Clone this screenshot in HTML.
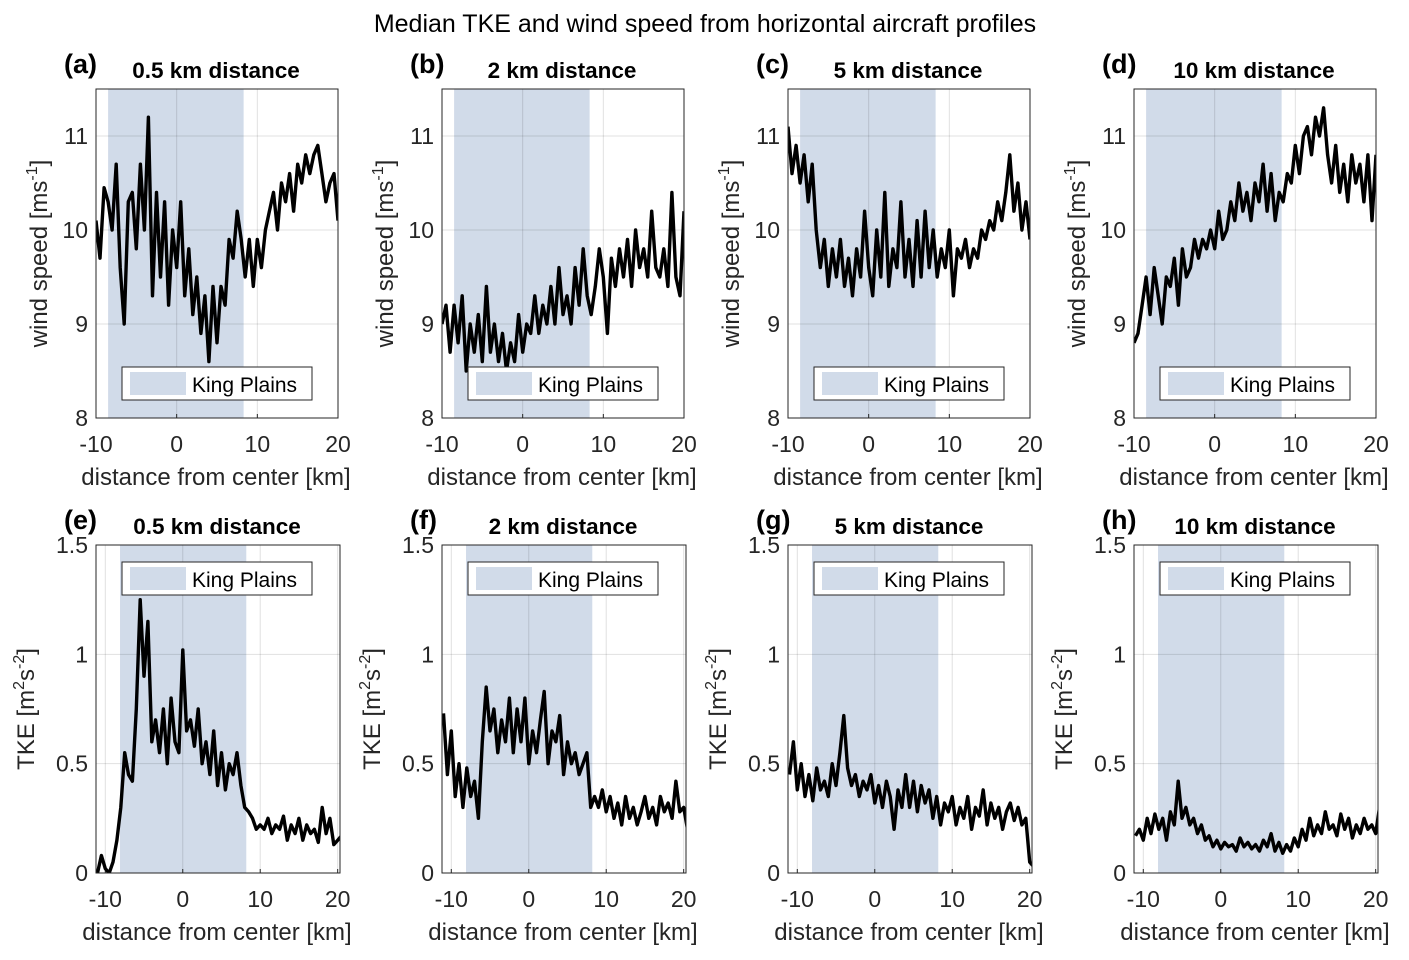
<!DOCTYPE html>
<html><head><meta charset="utf-8"><style>
html,body{margin:0;padding:0;background:#fff}
svg{display:block;font-family:"Liberation Sans",Arial,sans-serif}
</style></head><body>
<svg id="fig" width="1409" height="960" viewBox="0 0 1409 960" xmlns="http://www.w3.org/2000/svg">
<text x="705" y="32" font-size="25" text-anchor="middle" fill="#000">Median TKE and wind speed from horizontal aircraft profiles</text>
</svg>
<script>
// ---- data ----
const panelLetters = ['(a)','(b)','(c)','(d)','(e)','(f)','(g)','(h)'];
const panelTitles = ['0.5 km distance','2 km distance','5 km distance','10 km distance'];
const windXStart = -10, windXStep = 0.5;
const tkeXStart = -11, tkeXStep = 0.5;
const windA = [10.1,9.7,10.45,10.3,10.0,10.7,9.6,9.0,10.3,10.4,9.8,10.7,10.0,11.2,9.3,10.4,9.5,10.3,9.2,10.0,9.6,10.3,9.3,9.8,9.1,9.5,8.9,9.3,8.6,9.4,8.8,9.4,9.2,9.9,9.7,10.2,9.9,9.5,9.9,9.4,9.9,9.6,10.0,10.2,10.4,10.0,10.5,10.3,10.6,10.2,10.7,10.5,10.8,10.6,10.8,10.9,10.6,10.3,10.5,10.6,10.1];
const windB = [9.0,9.2,8.7,9.2,8.8,9.3,8.5,9.0,8.7,9.1,8.6,9.4,8.7,9.0,8.6,8.9,8.5,8.8,8.6,9.1,8.7,9.0,8.9,9.3,8.9,9.2,9.0,9.4,9.0,9.6,9.1,9.3,9.0,9.6,9.2,9.8,9.3,9.1,9.4,9.8,9.5,8.9,9.7,9.4,9.8,9.5,9.9,9.4,10.0,9.6,9.8,9.5,10.2,9.6,9.5,9.8,9.4,10.4,9.5,9.3,10.2];
const windC = [11.1,10.6,10.9,10.5,10.8,10.3,10.7,10.0,9.6,9.9,9.4,9.8,9.5,9.9,9.4,9.7,9.3,9.8,9.5,10.2,9.6,9.3,10.0,9.5,10.4,9.4,9.8,9.6,10.3,9.5,9.9,9.4,10.1,9.5,10.2,9.6,10.0,9.5,9.8,9.6,10.0,9.3,9.8,9.7,9.9,9.6,9.8,9.7,10.0,9.9,10.1,10.0,10.3,10.1,10.4,10.8,10.2,10.5,10.0,10.3,9.9];
const windD = [8.8,8.9,9.2,9.5,9.1,9.6,9.3,9.0,9.5,9.4,9.7,9.2,9.8,9.5,9.6,9.9,9.7,9.9,9.8,10.0,9.8,10.2,9.9,10.0,10.3,10.1,10.5,10.2,10.4,10.1,10.5,10.3,10.7,10.2,10.6,10.1,10.4,10.3,10.6,10.5,10.9,10.6,11.0,11.1,10.8,11.2,11.0,11.3,10.8,10.5,10.9,10.4,10.7,10.3,10.8,10.5,10.7,10.3,10.8,10.1,10.8];
const tkeE = [0.0,0.08,0.02,0.0,0.05,0.15,0.3,0.55,0.45,0.42,0.75,1.25,0.9,1.15,0.6,0.7,0.55,0.75,0.5,0.8,0.6,0.55,1.02,0.65,0.7,0.58,0.75,0.5,0.6,0.45,0.65,0.4,0.55,0.38,0.5,0.45,0.55,0.4,0.3,0.28,0.25,0.2,0.22,0.2,0.25,0.18,0.22,0.2,0.26,0.15,0.22,0.18,0.25,0.15,0.22,0.18,0.2,0.14,0.3,0.18,0.25,0.13,0.15,0.17];
const tkeF = [0.73,0.45,0.65,0.35,0.5,0.3,0.48,0.35,0.42,0.25,0.6,0.85,0.65,0.75,0.55,0.7,0.6,0.8,0.55,0.75,0.6,0.8,0.5,0.65,0.55,0.7,0.83,0.5,0.65,0.6,0.72,0.45,0.6,0.5,0.55,0.45,0.5,0.55,0.3,0.35,0.3,0.38,0.28,0.35,0.25,0.32,0.22,0.35,0.25,0.3,0.22,0.28,0.35,0.25,0.3,0.22,0.35,0.28,0.32,0.25,0.42,0.28,0.3,0.2];
const tkeG = [0.45,0.6,0.38,0.5,0.35,0.45,0.33,0.48,0.38,0.42,0.35,0.5,0.4,0.55,0.72,0.48,0.4,0.45,0.35,0.42,0.38,0.45,0.32,0.4,0.3,0.42,0.35,0.2,0.38,0.3,0.45,0.3,0.42,0.28,0.4,0.32,0.38,0.25,0.35,0.22,0.32,0.28,0.35,0.22,0.3,0.25,0.35,0.2,0.3,0.26,0.38,0.22,0.32,0.25,0.3,0.2,0.28,0.32,0.24,0.3,0.22,0.25,0.05,0.03];
const tkeH = [0.17,0.2,0.15,0.25,0.18,0.27,0.2,0.25,0.15,0.28,0.22,0.42,0.25,0.3,0.22,0.25,0.18,0.22,0.15,0.17,0.12,0.15,0.11,0.14,0.12,0.13,0.1,0.16,0.12,0.14,0.11,0.13,0.1,0.15,0.12,0.18,0.1,0.14,0.09,0.13,0.1,0.16,0.12,0.2,0.15,0.25,0.17,0.22,0.18,0.28,0.2,0.22,0.17,0.27,0.2,0.25,0.16,0.22,0.18,0.25,0.2,0.22,0.18,0.3];
const windTicks = [8,9,10,11];
const tkeTicks = [0,0.5,1,1.5];
const tkeTickLabels = ['0','0.5','1','1.5'];
const xTicks = [-10,0,10,20];
const windShade = [-8.5,8.3];
const tkeShade = [-8.1,8.2];

const NS='http://www.w3.org/2000/svg';
const svg=document.getElementById('fig');
function el(tag,attrs,parent){const e=document.createElementNS(NS,tag);for(const k in attrs)e.setAttribute(k,attrs[k]);(parent||svg).appendChild(e);return e;}

function panel(i,row,series,xStart,xStep){
  const col=i%4;
  const L=96+346*col;
  const W=row===0?242:244;
  const T=row===0?89:545, B=row===0?418:873;
  const xmin=row===0?-10:-11.2, xmax=row===0?20:20.3;
  const ymin=row===0?8:0, ymax=row===0?11.5:1.5;
  const sx=v=>L+(v-xmin)/(xmax-xmin)*W;
  const sy=v=>B-(v-ymin)/(ymax-ymin)*(B-T);
  const g=el('g',{});
  
  
  const shade=row===0?windShade:tkeShade;
  const sh=el('rect',{x:sx(shade[0]),y:T,width:sx(shade[1])-sx(shade[0]),height:B-T,fill:'#d1dbe9'},g);
  
  
  xTicks.forEach(t=>{const X=sx(t);
    el('line',{x1:X,x2:X,y1:T,y2:B,stroke:'#000','stroke-opacity':0.12,'stroke-width':1},g);
    el('line',{x1:X,x2:X,y1:B,y2:B-4,stroke:'#262626'},g);
    const tx=el('text',{x:X,y:B+34,'font-size':23,'text-anchor':'middle',fill:'#262626'},g);tx.textContent=t;
    
    
  });
  const yt=row===0?windTicks:tkeTicks;
  yt.forEach((t,k)=>{const Y=sy(t);
    el('line',{x1:L,x2:L+W,y1:Y,y2:Y,stroke:'#000','stroke-opacity':0.12,'stroke-width':1},g);
    const tx=el('text',{x:L-8,y:Y+8,'font-size':23,'text-anchor':'end',fill:'#262626'},g);tx.textContent=row===0?t:tkeTickLabels[k];
    
    
  });
  const pts=series.map((v,k)=>sx(xStart+k*xStep).toFixed(1)+','+sy(v).toFixed(1)).join(' ');
  const cp=el('clipPath',{id:'c'+i},g);el('rect',{x:L,y:T,width:W,height:B-T},cp);
  const ln=el('polyline',{points:pts,fill:'none',stroke:'#000','stroke-width':3.4,'stroke-linejoin':'round','clip-path':'url(#c'+i+')'},g);
  
  
  el('rect',{x:L,y:T,width:W,height:B-T,fill:'none',stroke:'#262626','stroke-width':1},g);
  const ly=row===0?367:562;
  const lg=el('g',{},g);
  
  
  el('rect',{x:L+26,y:ly,width:190,height:33,fill:'#fff',stroke:'#262626','stroke-width':1},lg);
  el('rect',{x:L+34,y:ly+5,width:56,height:23,fill:'#d1dbe9'},lg);
  const lt=el('text',{x:L+96,y:ly+25,'font-size':21,fill:'#000'},lg);lt.textContent='King Plains';
  
  
  const pl=el('text',{x:L-32,y:T-16,'font-size':27,'font-weight':'bold',fill:'#000'},g);pl.textContent=panelLetters[i];
  
  
  const pt=el('text',{x:L+W/2-1,y:T-11,'font-size':22.5,'font-weight':'bold','text-anchor':'middle',fill:'#000'},g);pt.textContent=panelTitles[col];
  
  
  const xl=el('text',{x:L+W/2-1,y:B+67,'font-size':24,'text-anchor':'middle',fill:'#262626'},g);xl.textContent='distance from center [km]';
  
  
  const cy=(T+B)/2, cx=row===0?L-49:L-62;
  const yl=el('text',{x:cx,y:cy,'font-size':24,'text-anchor':'middle',fill:'#262626',transform:'rotate(-90 '+cx+' '+cy+')'},g);
  
  
  if(row===0){
    yl.innerHTML='wind speed [ms<tspan dy="-10" font-size="16">-1</tspan><tspan dy="10">]</tspan>';
  } else {
    yl.innerHTML='TKE [m<tspan dy="-10" font-size="16">2</tspan><tspan dy="10">s</tspan><tspan dy="-10" font-size="16">-2</tspan><tspan dy="10">]</tspan>';
  }
}
[windA,windB,windC,windD].forEach((s,i)=>panel(i,0,s,windXStart,windXStep));
[tkeE,tkeF,tkeG,tkeH].forEach((s,i)=>panel(i+4,1,s,tkeXStart,tkeXStep));
</script>
</body></html>
